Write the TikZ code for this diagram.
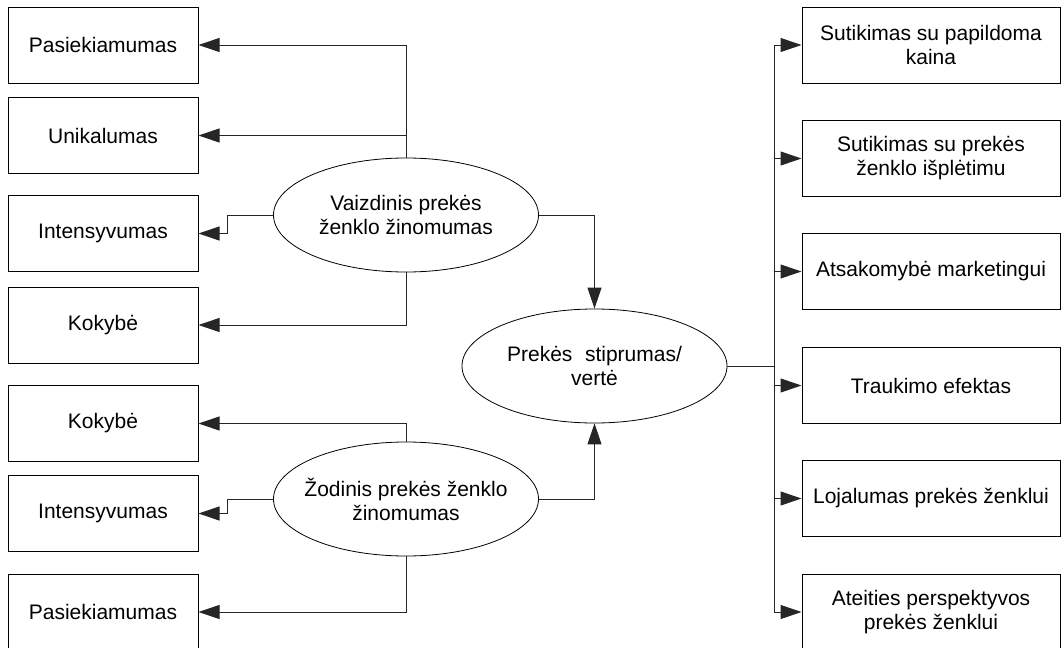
\documentclass[tikz,border=0pt]{standalone}
\usepackage{fontspec}
\setmainfont{Liberation Sans}
\usetikzlibrary{arrows.meta,shapes.geometric}
\begin{document}
\begin{tikzpicture}[x=1pt,y=-1pt,
  every node/.style={font=\fontsize{21}{24}\selectfont, align=center, inner sep=0pt},
  leftbox/.style={draw=black, line width=1pt, minimum width=190pt, minimum height=76pt},
  rightbox/.style={draw=black, line width=1pt, minimum width=258pt, minimum height=76pt},
  oval/.style={draw=black, line width=0.8pt, ellipse, minimum width=265pt, minimum height=114pt},
  link/.style={draw=black!85, line width=1pt},
  arr/.style={link, -{Triangle[length=21pt,width=14pt]}}]
\useasboundingbox (0,0) rectangle (1061,648);

% left column: attributes of brand awareness
\node[leftbox] (l1) at (103,45) {Pasiekiamumas};
\node[leftbox] (l2) at (103,135.5) {Unikalumas};
\node[leftbox] (l3) at (103,233.5) {Intensyvumas};
\node[leftbox] (l4) at (103,325) {Kokybė};
\node[leftbox] (l5) at (103,423.5) {Kokybė};
\node[leftbox] (l6) at (103,513.5) {Intensyvumas};
\node[leftbox] (l7) at (103,612) {Pasiekiamumas};

% awareness ellipses and the central one
\node[oval] (e1) at (406,215) {Vaizdinis prekės\\ženklo žinomumas};
\node[oval, inner xsep=-15pt] (e2) at (406,499) {Žodinis prekės ženklo\\žinomumas};
\node[oval] (e3) at (594.5,366) {Prekės\hspace{0.6em}stiprumas/\\vertė};

% right column: consequences
\node[rightbox] (r1) at (931,45) {Sutikimas su papildoma\\kaina};
\node[rightbox] (r2) at (931,158.5) {Sutikimas su prekės\\ženklo išplėtimu};
\node[rightbox] (r3) at (931,271.5) {Atsakomybė marketingui};
\node[rightbox] (r4) at (931,385.5) {Traukimo efektas};
\node[rightbox] (r5) at (931,498.5) {Lojalumas prekės ženklui};
\node[rightbox] (r6) at (931,612) {Ateities perspektyvos\\prekės ženklui};

% branches of the visual awareness ellipse
\coordinate (j1) at (406,135.5);
\draw[arr] (e1.north) |- (l1.east);
\draw[arr] (j1) -- (l2.east);
\draw[arr] (e1.west) -- ++(-46,0) |- (l3.east);
\draw[arr] (e1.south) |- (l4.east);

% branches of the verbal awareness ellipse
\draw[arr] (e2.north) |- (l5.east);
\draw[arr] (e2.west) -- ++(-46,0) |- (l6.east);
\draw[arr] (e2.south) |- (l7.east);

% both feed the central ellipse
\draw[arr] (e1.east) -| (e3.north);
\draw[arr] (e2.east) -| (e3.south);

% central ellipse to the consequence column
\coordinate (bus) at (774,366);
\draw[link] (e3.east) -- (bus);
\draw[link] (bus |- r1.west) -- (bus |- r6.west);
\foreach \r in {r1,r2,r3,r4,r5,r6}
  \draw[arr] (bus |- \r.west) -- (\r.west);
\end{tikzpicture}
\end{document}
